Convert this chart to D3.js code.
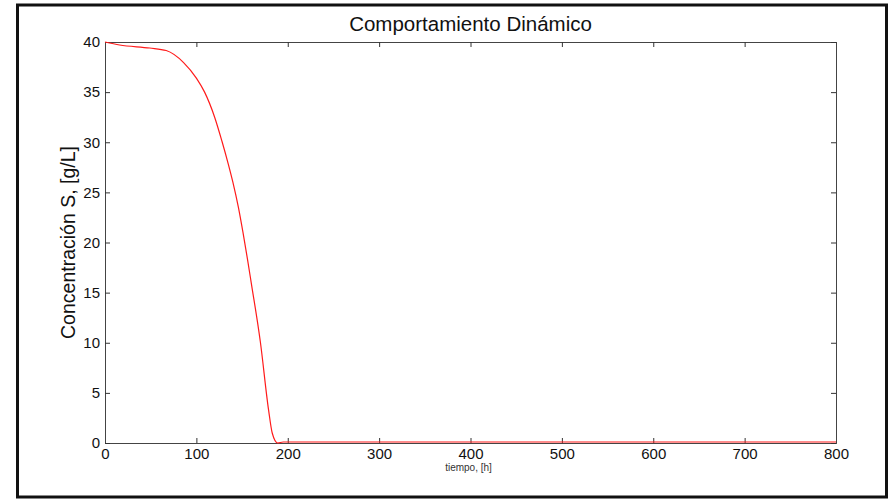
<!DOCTYPE html>
<html>
<head>
<meta charset="utf-8">
<script src="https://cdnjs.cloudflare.com/ajax/libs/d3/7.8.5/d3.min.js"></script>
<style>
  body { margin: 0; background: #fff; }
  svg text { font-family: "Liberation Sans", Arial, sans-serif; fill: #111; }
</style>
</head>
<body>
<div id="chart"></div>
<script>

// data
var tiempo = [0, 16, 49, 67, 86, 100, 109, 120, 128, 135, 140, 146, 151, 156, 160, 170, 179, 183, 189, 195, 300, 500, 800];
var sustrato = [40, 39.7, 39.4, 39.15, 37.95, 36.4, 35.0, 32.5, 30.1, 27.8, 26.0, 23.5, 21.0, 18.3, 16.0, 10.1, 3.3, 1.0, 0.0, 0.1, 0.1, 0.1, 0.1];
var xTicks = [0, 100, 200, 300, 400, 500, 600, 700, 800];
var yTicks = [0, 5, 10, 15, 20, 25, 30, 35, 40];

var titulo = "Comportamiento Dinámico";
var xLabel = "tiempo, [h]";
var yLabel = "Concentración S, [g/L]";

// Set the dimensions and margins of the diagram
var W = 894, H = 499;
var margin = {top: 42, right: 58, bottom: 56, left: 105},
    width = 836 - margin.left,
    height = 443 - margin.top;

var svg = d3.select("#chart").append("svg")
    .attr("width", W)
    .attr("height", H);

// outer frame
svg.append("rect")
    .attr("x", 17.5).attr("y", 5)
    .attr("width", 869).attr("height", 492)
    .attr("fill", "none")
    .attr("stroke", "#111")
    .attr("stroke-width", 3);

var g = svg.append("g")
    .attr("transform", "translate(" + margin.left + "," + margin.top + ")");

var x = d3.scaleLinear().domain([0, 800]).range([0, width]);
var y = d3.scaleLinear().domain([0, 40]).range([height, 0]);

// inward ticks on all four sides
var tickLen = 5;

g.append("g")
    .attr("transform", "translate(0," + height + ")")
    .call(d3.axisBottom(x).tickValues(xTicks).tickSize(-tickLen).tickPadding(5).tickFormat(d3.format("d")))
    .call(styleAxis);

g.append("g")
    .call(d3.axisTop(x).tickValues(xTicks).tickSize(-tickLen).tickFormat(""))
    .call(styleAxis);

g.append("g")
    .call(d3.axisLeft(y).tickValues(yTicks).tickSize(-tickLen).tickPadding(5).tickFormat(d3.format("d")))
    .call(styleAxis);

g.append("g")
    .attr("transform", "translate(" + width + ",0)")
    .call(d3.axisRight(y).tickValues(yTicks).tickSize(-tickLen).tickFormat(""))
    .call(styleAxis);

function styleAxis(sel) {
  sel.select(".domain").attr("stroke", "#444");
  sel.selectAll(".tick line").attr("stroke", "#333");
  sel.selectAll(".tick text")
      .attr("font-size", "15px")
      .style("font-family", "'Liberation Sans', Arial, sans-serif")
      .attr("fill", "#111");
}

// the curve
var line = d3.line()
    .x(function(d, i) { return x(tiempo[i]); })
    .y(function(d) { return y(d); })
    .curve(d3.curveMonotoneX);

g.append("path")
    .datum(sustrato)
    .attr("fill", "none")
    .attr("stroke", "#ff1a1a")
    .attr("stroke-width", 1.2)
    .attr("d", line);

// title and labels
svg.append("text")
    .attr("x", margin.left + width / 2)
    .attr("y", 31)
    .attr("text-anchor", "middle")
    .attr("font-size", "20.5px")
    .text(titulo);

svg.append("text")
    .attr("x", margin.left + width / 2 - 2)
    .attr("y", 471)
    .attr("text-anchor", "middle")
    .attr("font-size", "10px")
    .style("fill", "#333")
    .text(xLabel);

svg.append("text")
    .attr("transform", "translate(75," + (margin.top + height / 2) + ") rotate(-90)")
    .attr("text-anchor", "middle")
    .attr("font-size", "19.5px")
    .text(yLabel);

</script>
</body>
</html>
